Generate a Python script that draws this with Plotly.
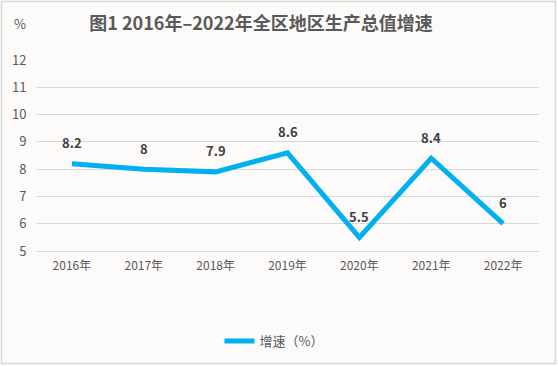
import plotly.graph_objects as go

years = ["2016年", "2017年", "2018年", "2019年", "2020年", "2021年", "2022年"]
growth = [8.2, 8, 7.9, 8.6, 5.5, 8.4, 6]
labels = ["8.2", "8", "7.9", "8.6", "5.5", "8.4", "6"]
y_ticks = [5, 6, 7, 8, 9, 10, 11, 12]

W, H = 558, 366
ML, MR, MT, MB = 36, 19, 60, 115
PW, PH = W - ML - MR, H - MT - MB

fig = go.Figure()
fig.add_trace(go.Scatter(
    x=years, y=growth, mode="lines", name="增速（%）",
    line=dict(color="#00B0F0", width=5),
))

ann = [dict(x=yr, y=v, xref="x", yref="y", text="<b>%s</b>" % t, showarrow=False,
            yshift=21, font=dict(family="Noto Sans CJK SC", size=13, color="#404040"))
       for yr, v, t in zip(years, growth, labels)]
ann.append(dict(text="%", xref="paper", yref="paper", x=(20 - ML) / PW, y=1 + (MT - 23) / PH,
                xanchor="center", yanchor="middle", showarrow=False,
                font=dict(size=13, color="#595959")))

fig.update_layout(
    width=W, height=H,
    margin=dict(l=ML, r=MR, t=MT, b=MB, autoexpand=False),
    paper_bgcolor="#fdfbf9", plot_bgcolor="rgba(0,0,0,0)",
    font=dict(family="Noto Sans CJK SC", color="#595959", size=12),
    title=dict(text="<b>图1 2016年–2022年全区地区生产总值增速</b>",
               x=261 / W, xanchor="center", y=1 - 24 / H, yanchor="middle",
               font=dict(family="Noto Sans CJK SC", size=18, color="#595959")),
    showlegend=True,
    legend=dict(orientation="h", x=(274 - ML) / PW, xanchor="center",
                y=-(341 - MT - PH) / PH, yanchor="middle",
                font=dict(size=13, color="#595959"), bgcolor="rgba(0,0,0,0)"),
    xaxis=dict(range=[-0.5, len(years) - 0.5], showgrid=False, showline=True,
               linecolor="#d9d9d9", linewidth=1,
               ticks="outside", ticklen=4, tickcolor="rgba(0,0,0,0)",
               tickfont=dict(size=12, color="#595959"), automargin=False),
    yaxis=dict(range=[5, 12], tickvals=y_ticks, showgrid=True, gridcolor="#d9d9d9",
               zeroline=False, ticks="outside", ticklen=6, tickcolor="rgba(0,0,0,0)",
               tickfont=dict(size=13, color="#595959"), automargin=False),
    shapes=[dict(type="rect", xref="paper", yref="paper",
                 x0=(1.5 - ML) / PW, x1=1 + (MR - 2.5) / PW,
                 y0=-(MB - 2.5) / PH, y1=1 + (MT - 1.5) / PH,
                 line=dict(color="#d9d9d9", width=1.5), layer="below")],
    annotations=ann,
)
fig.write_html("out.html", config={"displayModeBar": False},
               post_script="document.body.style.margin='0';")
